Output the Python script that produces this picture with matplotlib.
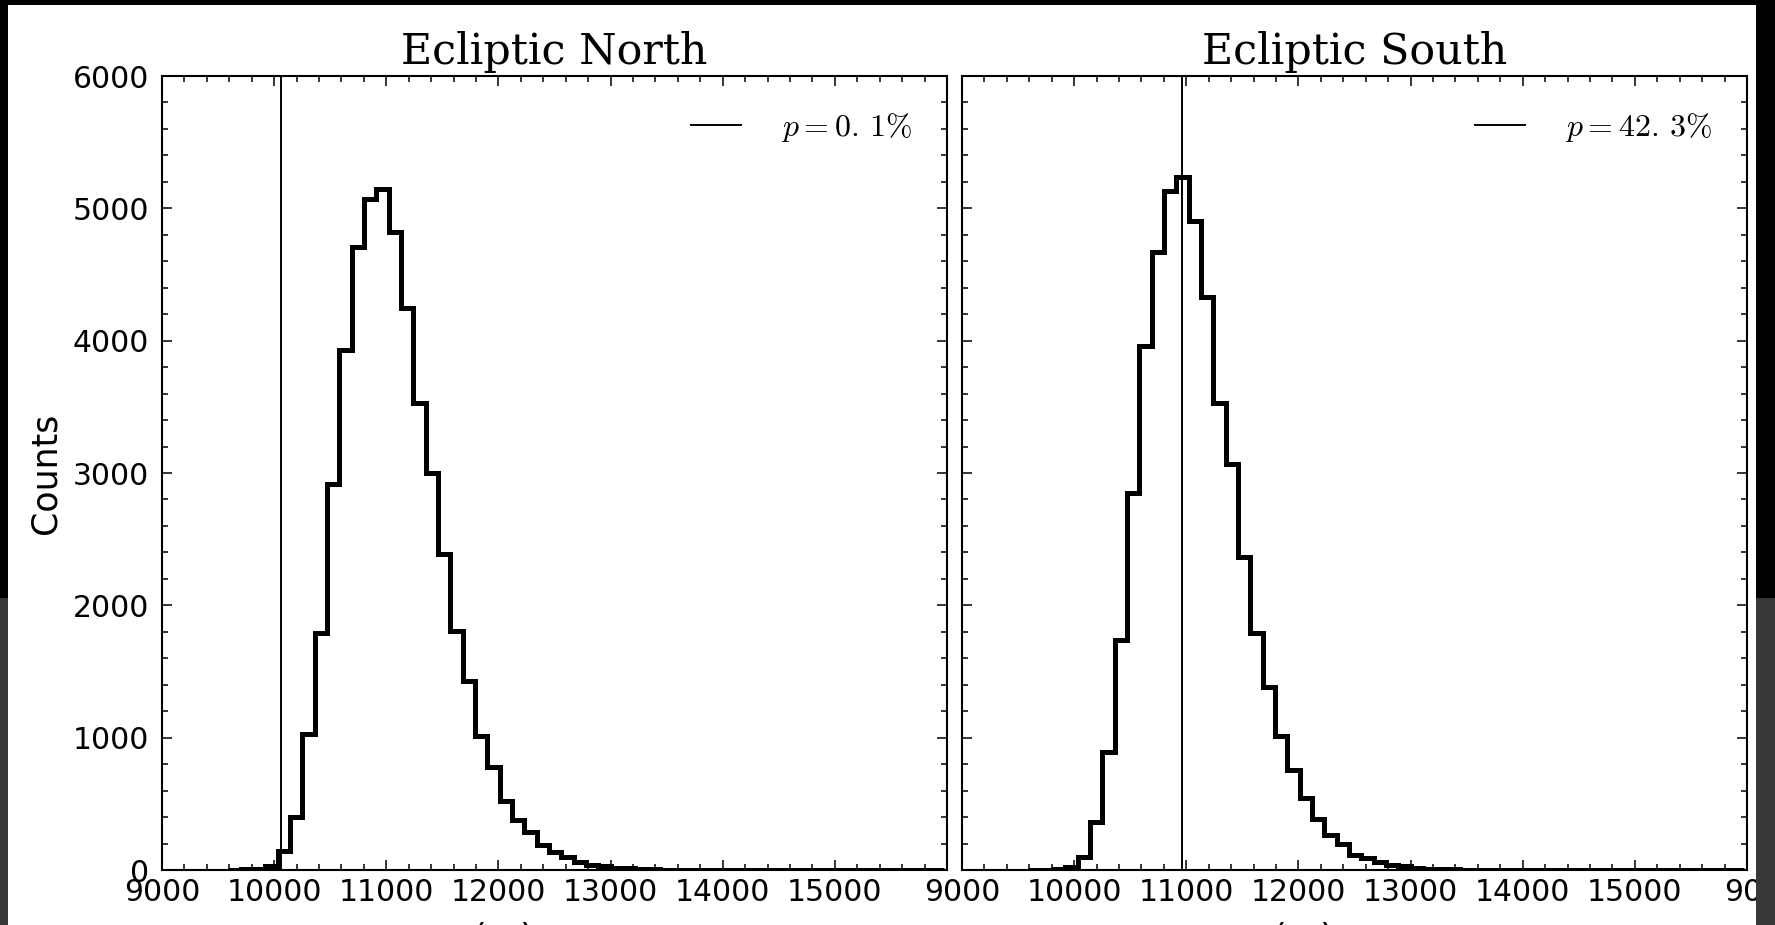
import numpy as np
import matplotlib
matplotlib.use("Agg")
import matplotlib.pyplot as plt
from matplotlib.patches import Rectangle
from matplotlib.ticker import FixedLocator, MultipleLocator

plt.rcParams["mathtext.fontset"] = "cm"

# shared binning of the simulated statistic
bin_edges = np.linspace(9590, 15970, 59)

north_counts = [2, 5, 9, 32, 140, 400, 1030, 1790, 2920, 3930,
                4705, 5068, 5143, 4818, 4244, 3532, 2997, 2385, 1806, 1425,
                1015, 775, 525, 380, 290, 190, 135, 98, 60, 38,
                27, 18, 12, 7, 5, 3, 2, 2, 1, 1,
                1, 0, 1, 0, 0, 0, 0, 1, 0, 0,
                0, 0, 0, 0, 0, 0, 0, 1]
south_counts = [1, 3, 6, 25, 96, 365, 894, 1738, 2851, 3960,
                4673, 5134, 5240, 4907, 4333, 3532, 3066, 2368, 1788, 1380,
                1013, 756, 542, 383, 264, 196, 113, 88, 63, 38,
                27, 15, 10, 6, 4, 3, 2, 1, 1, 1,
                0, 1, 0, 0, 0, 0, 0, 0, 0, 1,
                0, 0, 0, 0, 0, 0, 0, 1]

north_obs = 10065
south_obs = 10960
north_p = r"$p = 0.\,1\%$"
south_p = r"$p = 42.\,3\%$"
titles = ["Ecliptic North", "Ecliptic South"]
xticks = [9000, 10000, 11000, 12000, 13000, 14000, 15000]
yticks = [0, 1000, 2000, 3000, 4000, 5000, 6000]

W, H = 1775, 925


def box(x0, x1, y0, y1):
    return [x0 / W, 1 - y1 / H, (x1 - x0) / W, (y1 - y0) / H]


fig = plt.figure(figsize=(W / 100, H / 100), dpi=100, facecolor="white")
ax_n = fig.add_axes(box(162, 947, 76, 870))
ax_s = fig.add_axes(box(962, 1747, 76, 870), sharey=ax_n)
ax_r = fig.add_axes(box(1762, 2547, 76, 870), sharey=ax_n)

for ax in (ax_n, ax_s, ax_r):
    ax.set_xlim(9000, 16000)
    ax.set_ylim(0, 6000)
    ax.xaxis.set_major_locator(FixedLocator(xticks))
    ax.xaxis.set_minor_locator(MultipleLocator(200))
    ax.yaxis.set_major_locator(FixedLocator(yticks))
    ax.yaxis.set_minor_locator(MultipleLocator(200))
    ax.tick_params(which="both", direction="in", top=True, right=True,
                   width=1.1, labelsize=21.5)
    ax.tick_params(which="major", length=7.2)
    ax.tick_params(which="minor", length=4)
    ax.tick_params(axis="x", pad=5.5)
    ax.tick_params(axis="y", pad=9.5)
    for sp in ax.spines.values():
        sp.set_linewidth(1.5)
    ax.set_xlabel("(m)", fontsize=25)
    ax.xaxis.set_label_coords(0.435, -0.066)

for ax in (ax_s, ax_r):
    ax.tick_params(labelleft=False)

panels = [(ax_n, north_counts, north_obs, north_p, titles[0]),
          (ax_s, south_counts, south_obs, south_p, titles[1])]
for ax, counts, obs, lab, title in panels:
    ax.stairs(counts, bin_edges, color="k", lw=3.6)
    ax.axvline(obs, color="k", lw=1.4, label=lab)
    ax.set_title(title, family="DejaVu Serif", fontsize=30.8, pad=8.5)
    ax.legend(loc="upper right", frameon=False, fontsize=23,
              handlelength=1.55, handletextpad=1.25, borderaxespad=0.7)

ax_n.set_ylabel("Counts", fontsize=25)
ax_n.yaxis.set_label_coords(-0.127, 0.5)

# dark surround of the window
frame = [(0, 0, W, 5, "black"),
         (0, 0, 8, 598, "black"),
         (0, 598, 8, H, "#383838"),
         (1756, 0, W, 598, "black"),
         (1756, 598, W, H, "#383838")]
for x0, y0, x1, y1, c in frame:
    fig.add_artist(Rectangle((x0 / W, 1 - y1 / H), (x1 - x0) / W, (y1 - y0) / H,
                             transform=fig.transFigure, color=c, lw=0,
                             zorder=10))

fig.savefig("out.png", dpi=100, facecolor="white")
